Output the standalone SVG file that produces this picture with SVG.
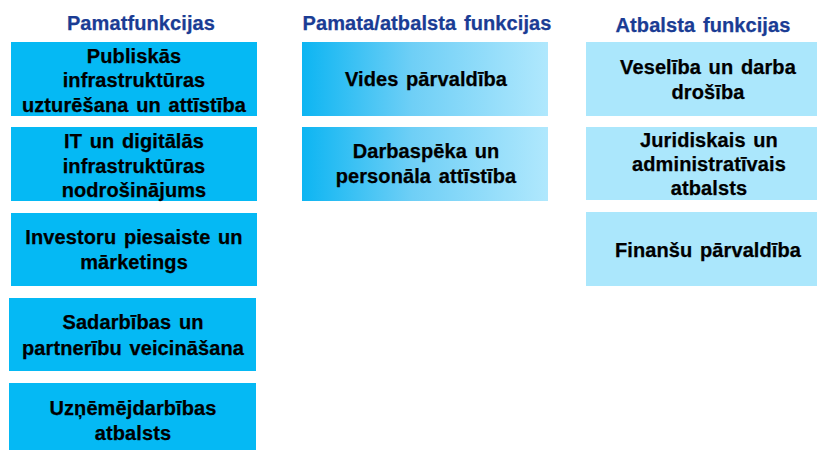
<svg xmlns="http://www.w3.org/2000/svg" width="817" height="450" viewBox="0 0 817 450">
<defs>
<linearGradient id="gmid" x1="0" y1="0" x2="1" y2="0">
<stop offset="0" stop-color="#0db5f2"/>
<stop offset="0.45" stop-color="#6fcff6"/>
<stop offset="1" stop-color="#b0e8fd"/>
</linearGradient>
<style>
.title{font-family:"Liberation Sans",Arial,sans-serif;font-weight:bold;font-size:20px;fill:#1a3c94;stroke:#1a3c94;stroke-width:0.25px;text-anchor:middle;letter-spacing:0.1px;word-spacing:2px}
.lbl{font-family:"Liberation Sans",Arial,sans-serif;font-weight:bold;font-size:20px;fill:#000;stroke:#000;stroke-width:0.25px;text-anchor:middle;letter-spacing:0.1px;word-spacing:2px}
.core{fill:#05b9f4}
.mid{fill:url(#gmid)}
.sup{fill:#abe7fc}
</style>
</defs>
<rect width="817" height="450" fill="#ffffff"/>
<text class="title" x="141" y="30">Pamatfunkcijas</text>
<text class="title" x="427" y="30">Pamata/atbalsta funkcijas</text>
<text class="title" x="703" y="31.5">Atbalsta funkcijas</text>

<g id="n1"><rect class="core" x="11" y="42" width="246" height="74"/>
<text class="lbl" x="134" y="62.7">Publiskās</text><text class="lbl" x="134" y="87">infrastruktūras</text><text class="lbl" x="134" y="111.5">uzturēšana un attīstība</text></g>
<g id="n2"><rect class="core" x="11" y="127" width="246" height="74"/>
<text class="lbl" x="134" y="148.3">IT un digitālās</text><text class="lbl" x="134" y="172.7">infrastruktūras</text><text class="lbl" x="134" y="196.5">nodrošinājums</text></g>
<g id="n3"><rect class="core" x="11" y="213" width="246" height="73"/>
<text class="lbl" x="134" y="244.3">Investoru piesaiste un</text><text class="lbl" x="134" y="269">mārketings</text></g>
<g id="n4"><rect class="core" x="9" y="298" width="247" height="73"/>
<text class="lbl" x="133" y="329.3">Sadarbības un</text><text class="lbl" x="133" y="355">partnerību veicināšana</text></g>
<g id="n5"><rect class="core" x="9" y="383" width="247" height="73"/>
<text class="lbl" x="133" y="415">Uzņēmējdarbības</text><text class="lbl" x="133" y="440">atbalsts</text></g>

<g id="m1"><rect class="mid" x="302" y="42" width="246" height="74"/>
<text class="lbl" x="426" y="86">Vides pārvaldība</text></g>
<g id="m2"><rect class="mid" x="302" y="127" width="246" height="74"/>
<text class="lbl" x="426" y="158.3">Darbaspēka un</text><text class="lbl" x="426" y="183.3">personāla attīstība</text></g>

<g id="s1"><rect class="sup" x="586" y="42" width="231" height="74"/>
<text class="lbl" x="708" y="74">Veselība un darba</text><text class="lbl" x="708" y="99.3">drošība</text></g>
<g id="s2"><rect class="sup" x="586" y="127" width="231" height="73"/>
<text class="lbl" x="709" y="146.7">Juridiskais un</text><text class="lbl" x="709" y="170.7">administratīvais</text><text class="lbl" x="709" y="195">atbalsts</text></g>
<g id="s3"><rect class="sup" x="586" y="212" width="231" height="74"/>
<text class="lbl" x="708" y="257.3">Finanšu pārvaldība</text></g>
<g id="connectors"/>
</svg>
